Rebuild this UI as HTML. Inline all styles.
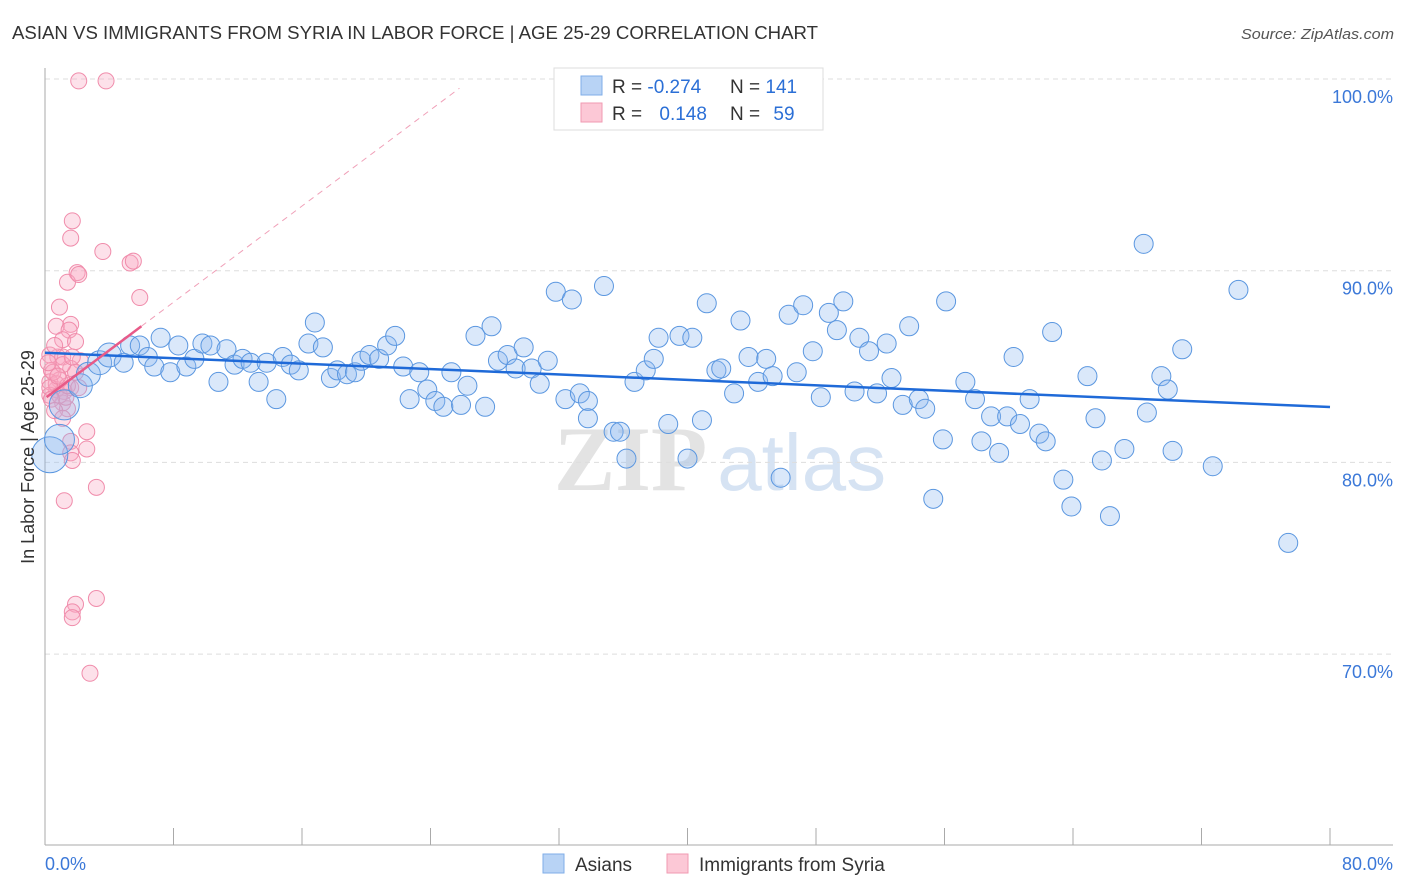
<!DOCTYPE html>
<html><head><meta charset="utf-8"><style>
body{margin:0;background:#fff;font-family:"Liberation Sans",sans-serif;}
svg{display:block}
</style></head><body>
<svg id="chart" width="1406" height="892" viewBox="0 0 1406 892" xmlns="http://www.w3.org/2000/svg">
<text x="12" y="39" font-size="18" fill="#333" textLength="806" lengthAdjust="spacingAndGlyphs">ASIAN VS IMMIGRANTS FROM SYRIA IN LABOR FORCE | AGE 25-29 CORRELATION CHART</text>
<text x="1394" y="39" font-size="15" fill="#555" font-style="italic" text-anchor="end" textLength="153" lengthAdjust="spacingAndGlyphs">Source: ZipAtlas.com</text>
<text x="720" y="490" font-size="92" text-anchor="middle" fill="#e3e3e3"><tspan font-family="Liberation Serif" font-weight="bold">ZIP</tspan><tspan fill="#d6e3f3" font-size="80" dx="10">atlas</tspan></text>
<g id="grid"></g>
<g id="axes"></g>
<g id="pink"></g>
<g id="blue"></g>
<g id="trends"></g>
<text transform="translate(34,457) rotate(-90)" font-size="18" fill="#333" text-anchor="middle">In Labor Force | Age 25-29</text>
<g>
<rect x="554" y="68" width="269" height="62" fill="#fff" stroke="#ddd"/>
<rect x="581" y="76" width="21" height="19" fill="#b8d3f5" stroke="#7faee8"/>
<rect x="581" y="103" width="21" height="19" fill="#fcc8d6" stroke="#f09ab2"/>
<text x="612" y="93" font-size="19" fill="#333">R = <tspan fill="#2b6fd6">-0.274</tspan></text>
<text x="730" y="93" font-size="19" fill="#333">N = <tspan fill="#2b6fd6">141</tspan></text>
<text x="612" y="120" font-size="19" fill="#333">R = <tspan fill="#2b6fd6" dx="12">0.148</tspan></text>
<text x="730" y="120" font-size="19" fill="#333">N = <tspan fill="#2b6fd6" dx="8">59</tspan></text>
</g>
<g>
<rect x="543" y="854" width="21" height="19" fill="#b8d3f5" stroke="#7faee8"/>
<text x="575" y="871" font-size="19" fill="#333">Asians</text>
<rect x="667" y="854" width="21" height="19" fill="#fcc8d6" stroke="#f09ab2"/>
<text x="699" y="871" font-size="19" fill="#333">Immigrants from Syria</text>
</g>
</svg>
<script>
const yTicks=[100,90,80,70];
const yTickLabels=["100.0%","90.0%","80.0%","70.0%"];
const xTickValues=[0,8,16,24,32,40,48,56,64,72,80];
const blueX=[0.3,0.9,1.2,2.2,2.7,3.4,4.0,4.9,5.3,5.9,6.4,6.8,7.2,7.8,8.3,8.8,9.3,9.8,10.3,10.8,11.3,11.8,12.3,12.8,13.3,13.8,14.4,14.8,15.3,15.8,16.4,16.8,17.3,17.8,18.2,18.8,19.3,19.7,20.2,20.8,21.3,21.8,22.3,22.7,23.3,23.8,24.3,24.8,25.3,25.9,26.3,26.8,27.4,27.8,28.2,28.8,29.3,29.8,30.3,30.8,31.3,31.8,32.4,32.8,33.3,33.8,33.8,34.8,35.4,35.8,36.2,36.7,37.4,37.9,38.2,38.8,39.5,40.0,40.3,40.9,41.2,41.8,42.1,42.9,43.3,43.8,44.4,44.9,45.3,45.8,46.3,46.8,47.2,47.8,48.3,48.8,49.3,49.7,50.4,50.7,51.3,51.8,52.4,52.7,53.4,53.8,54.4,54.8,55.3,55.9,56.1,57.3,57.9,58.3,58.9,59.4,59.9,60.3,60.7,61.3,61.9,62.3,62.7,63.4,63.9,64.9,65.4,65.8,66.3,67.2,68.4,68.6,69.5,69.9,70.2,70.8,72.7,74.3,77.4];
const blueY=[80.4,81.2,83.0,84.0,84.6,85.2,85.6,85.2,86.1,86.1,85.5,85.0,86.5,84.7,86.1,85.0,85.4,86.2,86.1,84.2,85.9,85.1,85.4,85.2,84.2,85.2,83.3,85.5,85.1,84.8,86.2,87.3,86.0,84.4,84.8,84.6,84.7,85.3,85.6,85.4,86.1,86.6,85.0,83.3,84.7,83.8,83.2,82.9,84.7,83.0,84.0,86.6,82.9,87.1,85.3,85.6,84.9,86.0,84.9,84.1,85.3,88.9,83.3,88.5,83.6,83.2,82.3,89.2,81.6,81.6,80.2,84.2,84.8,85.4,86.5,82.0,86.6,80.2,86.5,82.2,88.3,84.8,84.9,83.6,87.4,85.5,84.2,85.4,84.5,79.2,87.7,84.7,88.2,85.8,83.4,87.8,86.9,88.4,83.7,86.5,85.8,83.6,86.2,84.4,83.0,87.1,83.3,82.8,78.1,81.2,88.4,84.2,83.3,81.1,82.4,80.5,82.4,85.5,82.0,83.3,81.5,81.1,86.8,79.1,77.7,84.5,82.3,80.1,77.2,80.7,91.4,82.6,84.5,83.8,80.6,85.9,79.8,89.0,75.8];
const pinkX=[2.1,3.8,1.7,1.6,3.6,5.3,5.5,2.0,1.4,2.1,5.9,0.9,1.6,0.7,1.5,1.1,1.9,0.8,0.3,1.1,2.2,0.4,1.6,0.9,0.7,1.2,1.6,0.3,1.1,1.4,0.3,0.7,0.3,0.5,1.9,2.6,1.6,1.6,1.7,2.6,3.2,1.2,3.2,1.9,1.7,1.7,2.8,0.6,0.9,1.3,0.4,1.1,1.4,0.6,1.1,2.1,1.7,0.8,0.2];
const pinkY=[99.9,99.9,92.6,91.7,91.0,90.4,90.5,89.9,89.4,89.8,88.6,88.1,87.2,87.1,86.9,86.4,86.3,85.5,85.6,85.5,85.3,84.8,84.9,84.3,83.8,83.7,83.9,84.2,83.1,82.8,83.5,84.1,83.9,84.7,84.7,81.6,81.1,80.5,80.1,80.7,78.7,78.0,72.9,72.6,72.2,71.9,69.0,86.1,83.5,83.4,83.3,85.1,84.0,82.7,82.3,83.9,85.5,84.5,85.2];
const blueTrend=[85.72,-0.0354];
const pinkTrend=[83.34,0.627];

const NS="http://www.w3.org/2000/svg";
const X=v=>45+v/80*1285;
const Y=v=>79+(100-v)*19.17;
function mk(tag,parent,attrs){const e=document.createElementNS(NS,tag);for(const k in attrs)e.setAttribute(k,attrs[k]);document.getElementById(parent).appendChild(e);return e;}
yTicks.forEach((t,i)=>{
  const l=mk('line','grid',{x1:45,x2:1393,y1:Y(t),y2:Y(t),stroke:'#ddd','stroke-dasharray':'5,4'});
  
  
  const tx=mk('text','grid',{x:1393,y:Y(t)+24,'font-size':18,fill:'#3b78d8','text-anchor':'end'});
  tx.textContent=yTickLabels[i];
  
  
});
const ax=mk('line','axes',{x1:45,x2:45,y1:68,y2:845,stroke:'#aaa'});


const bx=mk('line','axes',{x1:45,x2:1393,y1:845,y2:845,stroke:'#aaa'});


xTickValues.forEach(v=>{
  const t=mk('line','axes',{x1:X(v),x2:X(v),y1:828,y2:845,stroke:'#aaa'});
  
  
});
const xl0=mk('text','axes',{x:45,y:870,'font-size':18,fill:'#3b78d8'});xl0.textContent='0.0%';


const xl1=mk('text','axes',{x:1393,y:870,'font-size':18,fill:'#3b78d8','text-anchor':'end'});xl1.textContent='80.0%';


pinkX.forEach((v,i)=>{
  const c=mk('circle','pink',{cx:X(v),cy:Y(pinkY[i]),r:8,fill:'rgba(248,170,194,0.35)',stroke:'#f08cab','stroke-width':1});
  
  
});
const bigR=[18,15,15,12,12,12,12];
blueX.forEach((v,i)=>{
  const c=mk('circle','blue',{cx:X(v),cy:Y(blueY[i]),r:bigR[i]||9.5,fill:'rgba(140,185,240,0.32)',stroke:'#5b97e0','stroke-width':1});
  
  
});
const bl=mk('line','trends',{x1:X(0),y1:Y(blueTrend[0]),x2:X(80),y2:Y(blueTrend[0]+blueTrend[1]*80),stroke:'#1f6ad8','stroke-width':2.5});


const pd=mk('line','trends',{x1:X(6),y1:Y(pinkTrend[0]+pinkTrend[1]*6),x2:X(25.8),y2:Y(pinkTrend[0]+pinkTrend[1]*25.8),stroke:'#f0a0b8','stroke-width':1,'stroke-dasharray':'6,5'});


const ps=mk('line','trends',{x1:X(0.1),y1:Y(pinkTrend[0]+pinkTrend[1]*0.1),x2:X(6),y2:Y(pinkTrend[0]+pinkTrend[1]*6),stroke:'#e85a88','stroke-width':2.5});


</script>
</body></html>
